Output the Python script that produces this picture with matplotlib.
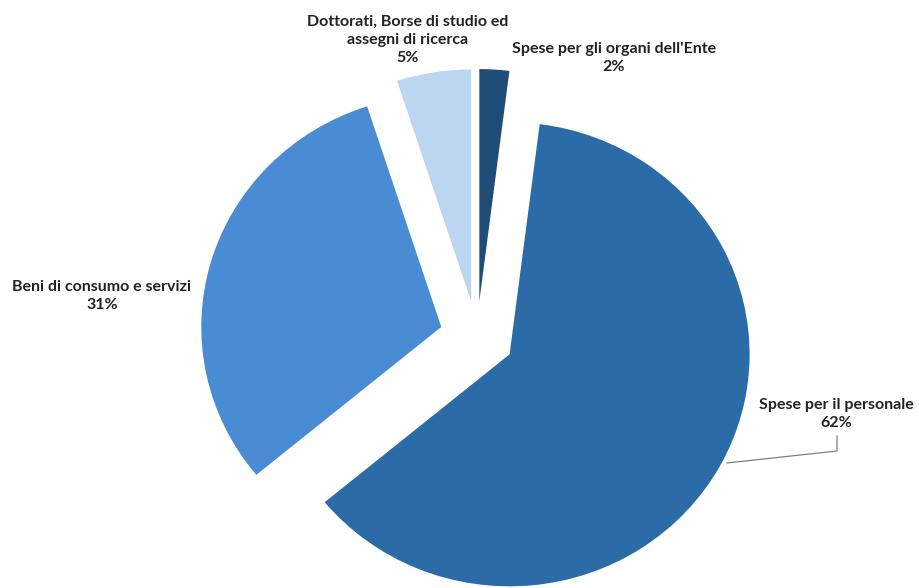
import matplotlib
matplotlib.use("Agg")
import matplotlib.pyplot as plt
from matplotlib.lines import Line2D

# Data (clockwise from 12 o'clock)
categories = ["Spese per gli organi dell'Ente", "Spese per il personale",
              "Beni di consumo e servizi", "Dottorati, Borse di studio ed\nassegni di ricerca"]
values = [2, 62, 31, 5]
colors = ["#1f4d77", "#2b6ca8", "#4a8cd4", "#bcd6f0"]

W, H = 920, 588
fig = plt.figure(figsize=(W / 100, H / 100), dpi=100)
ax = fig.add_axes([0, 0, 1, 1])

# pixel geometry of the pie
cx, cy = 477, 337      # centre (image px, y down)
rx, ry = 240, 232      # px per unit radius
ax.pie(values, colors=colors, startangle=90, counterclock=False,
       explode=[0.155] * len(values), radius=1,
       wedgeprops=dict(linewidth=0))
ax.set_aspect("auto")
ax.set_xlim(-cx / rx, (W - cx) / rx)
ax.set_ylim(-(H - cy) / ry, cy / ry)
ax.axis("off")

def fx(px):
    return px / W

def fy(py):
    return 1 - py / H

total = sum(values)
pct = [f"{round(100 * v / total)}%" for v in values]

font = dict(family=["Lato", "DejaVu Sans"], fontweight="bold", fontsize=11.5,
            color="#222222", ha="center", va="center", linespacing=1.4)

label_pos = [(614, 58), (836, 414), (102, 296), (408, 40)]
for cat, p, (px, py) in zip(categories, pct, label_pos):
    fig.text(fx(px), fy(py), f"{cat}\n{p}", **font)

# leader line for "Spese per il personale"
fig.add_artist(Line2D([fx(727), fx(837), fx(837)], [fy(463), fy(451), fy(436)],
                      color="#7f7f7f", linewidth=0.9, transform=fig.transFigure))

fig.savefig("out.png", dpi=100)
